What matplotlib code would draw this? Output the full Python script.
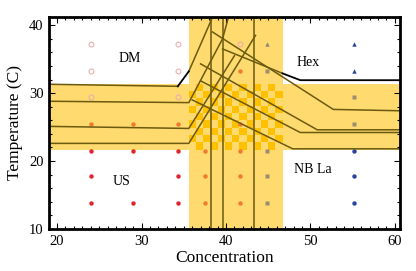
import numpy as np
import matplotlib
matplotlib.use('Agg')
import matplotlib.pyplot as plt
from matplotlib.ticker import MultipleLocator
from matplotlib.colors import ListedColormap

plt.rcParams['font.family'] = ['Liberation Serif', 'DejaVu Serif']

# sample points (concentration, temperature)
pale_x = [24.0, 34.3, 24.0, 34.3, 24.0, 34.3, 41.7]
pale_y = [37.3, 37.3, 33.3, 33.3, 29.4, 29.4, 37.3]
red_x = [24.0, 29.0, 34.3, 24.0, 34.3, 24.0, 29.0, 34.3]
red_y = [21.5, 21.5, 21.5, 17.8, 17.8, 13.8, 13.8, 13.8]
orange_x = [24.0, 29.0, 34.3, 41.7, 41.7, 37.5, 41.7, 37.5, 41.7, 37.5, 41.7]
orange_y = [25.5, 25.5, 25.5, 33.3, 25.5, 21.5, 21.5, 17.8, 17.8, 13.8, 13.8]
gray_x = [44.9, 44.9, 44.9, 44.9, 55.1, 55.1]
gray_y = [33.3, 21.5, 17.8, 13.8, 29.4, 25.5]
graytri_x = [44.9]
graytri_y = [37.3]
bluetri_x = [55.1, 55.1]
bluetri_y = [37.3, 33.3]
blue_x = [55.1, 55.1, 55.1]
blue_y = [21.5, 17.8, 13.8]

# shaded uncertainty bands
band_lo, band_hi = 21.7, 31.4
vband_lo, vband_hi = 35.6, 46.7

# phase boundaries
olive_lines = [
    [(19.05, 31.3), (34.3, 31.0)],
    [(35.6, 33.2), (38.1, 40.3), (38.4, 41.2)],
    [(19.05, 28.8), (35.6, 28.6), (39.6, 38.0), (40.3, 41.2)],
    [(19.05, 25.1), (35.6, 24.8), (41.0, 35.5)],
    [(19.05, 22.6), (35.6, 22.6), (43.5, 38.5)],
    [(39.6, 36.5), (46.7, 32.9)],
    [(38.4, 39.0), (52.7, 27.6), (60.6, 27.4)],
    [(37.0, 34.3), (50.8, 24.6), (60.6, 24.6)],
    [(37.0, 31.8), (48.8, 24.2), (60.6, 24.2)],
    [(36.0, 29.0), (47.9, 21.8), (60.6, 21.8)],
]
black_lines = [
    [(34.3, 31.0), (35.6, 33.2)],
    [(46.7, 32.9), (48.8, 31.9), (60.6, 31.9)],
]
vlines_x = [38.2, 39.6, 43.3]

region_labels = ['DM', 'US', 'Hex', 'NB La']
label_x = [28.6, 27.7, 49.7, 50.3]
label_y = [35.1, 17.0, 34.5, 18.7]


def plot():
    fig = plt.figure(figsize=(4.16, 2.71), dpi=100)
    ax = fig.add_axes([49 / 416, 1 - 229 / 271, 351 / 416, 212 / 271])
    ax.set_xlim(19.05, 60.6)
    ax.set_ylim(10, 41.2)

    light = '#ffda6e'
    dark = '#ffc000'
    olive = '#6b5a10'

    ax.axhspan(band_lo, band_hi, color=light, lw=0, zorder=1)
    ax.axvspan(vband_lo, vband_hi, color=light, lw=0, zorder=1)

    # checkered overlap
    nx, ny = 13, 9
    xe = np.linspace(vband_lo, vband_hi, nx + 1)
    ye = np.linspace(band_lo, band_hi, ny + 1)
    chk = np.indices((ny, nx)).sum(axis=0) % 2
    ax.pcolormesh(xe, ye, chk, cmap=ListedColormap([light, dark]), zorder=1.5)

    for ln in olive_lines:
        xs, ys = zip(*ln)
        ax.plot(xs, ys, color=olive, lw=1.1, zorder=3)
    for ln in black_lines:
        xs, ys = zip(*ln)
        ax.plot(xs, ys, color='black', lw=1.3, zorder=3)
    for x in vlines_x:
        ax.axvline(x, color=olive, lw=1.1, zorder=3)

    ax.plot(pale_x, pale_y, 'o', ms=3.5, mfc='none', mec='#eab0b0', mew=0.8, zorder=2)
    ax.plot(red_x, red_y, 'o', ms=3.2, color='#e2242c', mec='none', zorder=2)
    ax.plot(orange_x, orange_y, 'o', ms=3.2, color='#f07a30', mec='none', zorder=2)
    ax.plot(gray_x, gray_y, 's', ms=2.8, color='#9a8e70', mec='none', zorder=2)
    ax.plot(graytri_x, graytri_y, '^', ms=3.2, color='#8a8a72', mec='none', zorder=2)
    ax.plot(bluetri_x, bluetri_y, '^', ms=3.2, color='#2a45a0', mec='none', zorder=2)
    ax.plot(blue_x, blue_y, 'o', ms=3.2, color='#2a45a0', mec='none', zorder=2)

    for t, x, y in zip(region_labels, label_x, label_y):
        ax.text(x, y, t, fontsize=10, ha='center', va='center', zorder=4)

    ax.set_xticks([20, 30, 40, 50, 60])
    ax.set_yticks([10, 20, 30, 40])
    ax.xaxis.set_minor_locator(MultipleLocator(1))
    ax.yaxis.set_minor_locator(MultipleLocator(2))
    ax.tick_params(which='both', direction='in', top=True, right=True, labelsize=10.5, width=0.8)
    ax.tick_params(which='major', length=4, pad=4)
    ax.tick_params(which='minor', length=2)
    for s in ax.spines.values():
        s.set_linewidth(2)
        s.set_zorder(5)

    ax.set_xlabel('Concentration', fontsize=12.5, labelpad=2)
    ax.set_ylabel('Temperature (C)', fontsize=12.5, labelpad=4)

    plt.savefig('out.png', dpi=100)


if __name__ == '__main__':
    plot()
